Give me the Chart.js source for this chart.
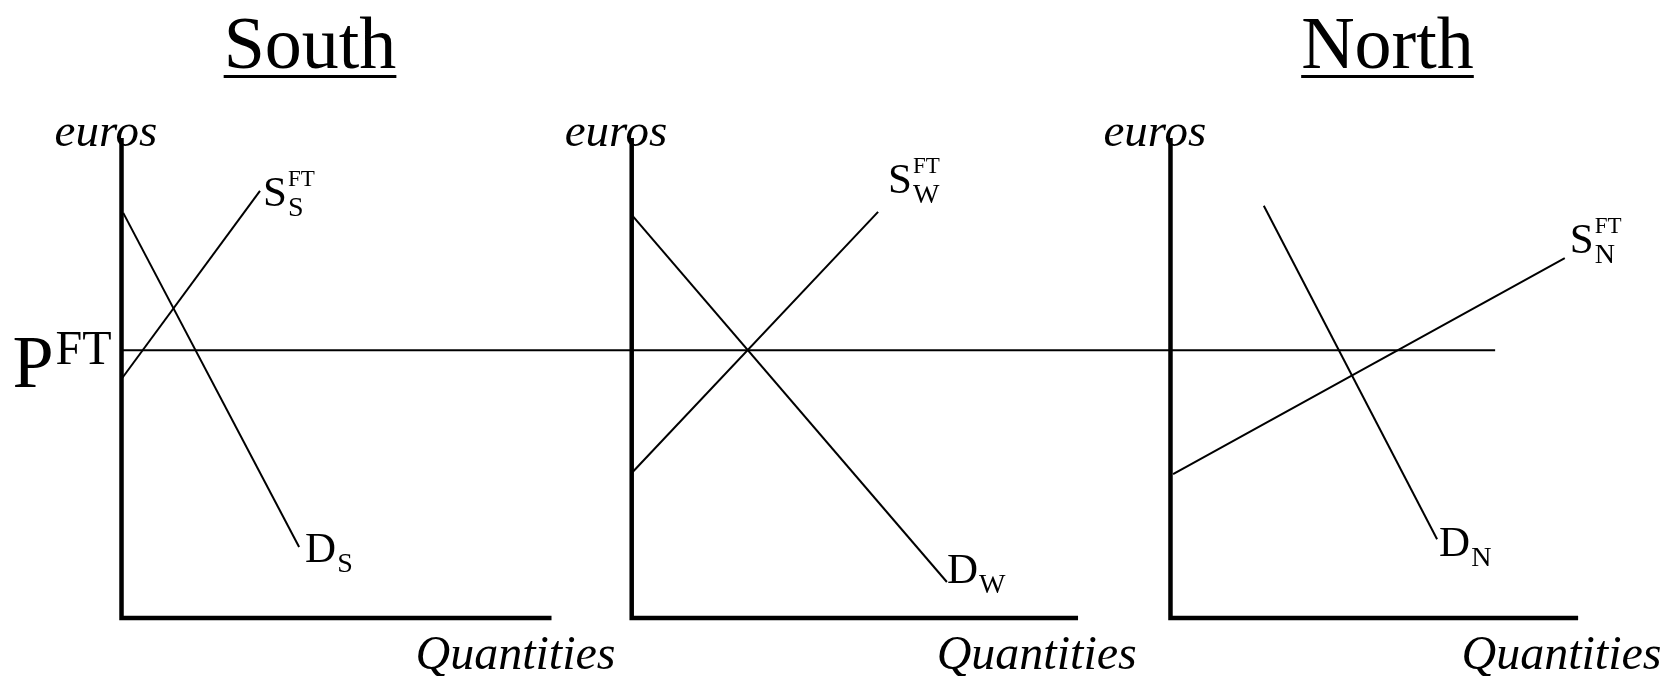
<!DOCTYPE html>
<html>
<head>
<meta charset="utf-8">
<script src="https://cdn.jsdelivr.net/npm/chart.js@4.4.1/dist/chart.umd.min.js"></script>
<style>
  html, body { margin: 0; padding: 0; background: #fff; }
  #wrap { width: 1663px; height: 676px; }
</style>
</head>
<body>
<div id="wrap"><canvas id="chart" width="1663" height="676"></canvas></div>
<script>
// --- DATOS (unidades: cantidad q, precio p, por panel) ---
const titles = ['South', '', 'North'];
const subs = ['S', 'W', 'N'];
const priceFT = 5.58;
const axisHeight = 10;
const axisLength = [10, 10.38, 9.48];
const priceLineEnd = 7.55; // en el panel North

const southSupply = [{ q: 0, p: 4.98 }, { q: 3.22, p: 8.90 }];
const southDemand = [{ q: 0.04, p: 8.44 }, { q: 4.13, p: 1.48 }];
const worldSupply = [{ q: 0, p: 3.02 }, { q: 5.73, p: 8.46 }];
const worldDemand = [{ q: 0, p: 8.40 }, { q: 7.33, p: 0.75 }];
const northSupply = [{ q: 0.06, p: 3.00 }, { q: 9.17, p: 7.50 }];
const northDemand = [{ q: 2.17, p: 8.59 }, { q: 6.20, p: 1.64 }];

// --- LAYOUT ---
const panelX = [0, 11.865, 24.395];
const X_MIN = -2.826, X_MAX = 35.849;
const Y_MIN = -1.208, Y_MAX = 12.875;
const FONT = '"Liberation Serif", "Times New Roman", serif';

const supplies = [southSupply, worldSupply, northSupply];
const demands = [southDemand, worldDemand, northDemand];

const toXY = (pts, i) => pts.map(d => ({ x: panelX[i] + d.q, y: d.p }));

const datasets = [];
// curvas de oferta y demanda
supplies.forEach((s, i) => datasets.push({ data: toXY(s, i), borderWidth: 2 }));
demands.forEach((d, i) => datasets.push({ data: toXY(d, i), borderWidth: 2 }));
// linea de precio de libre comercio
datasets.push({
  data: [{ x: panelX[0], y: priceFT }, { x: panelX[2] + priceLineEnd, y: priceFT }],
  borderWidth: 2
});
// ejes
panelX.forEach((off, i) => datasets.push({
  data: [{ x: off, y: axisHeight }, { x: off, y: 0 }, { x: off + axisLength[i], y: 0 }],
  borderWidth: 4.5
}));
datasets.forEach(ds => {
  ds.borderColor = '#000';
  ds.showLine = true;
  ds.pointRadius = 0;
  ds.fill = false;
  ds.tension = 0;
  ds.borderCapStyle = 'butt';
  ds.borderJoinStyle = 'miter';
});

// posiciones de los textos (offsets en px)
const curveLabels = [
  { ds: 0, main: 'S', sup: 'FT', sub: 'S', dx: 3, dy: 15 },
  { ds: 1, main: 'S', sup: 'FT', sub: 'W', dx: 10, dy: -19 },
  { ds: 2, main: 'S', sup: 'FT', sub: 'N', dx: 5, dy: -5 },
  { ds: 3, main: 'D', sub: 'S', dx: 6, dy: 15 },
  { ds: 4, main: 'D', sub: 'W', dx: 0, dy: 1 },
  { ds: 5, main: 'D', sub: 'N', dx: 2, dy: 17 }
];
const titleOffset = [188.5, 0, 217];
const qtyOffset = [294, 305, 291];

const textPlugin = {
  id: 'textos',
  afterDatasetsDraw(chart) {
    const ctx = chart.ctx;
    const xs = chart.scales.x, ys = chart.scales.y;
    const top = ys.getPixelForValue(axisHeight);
    const base = ys.getPixelForValue(0);
    ctx.save();
    ctx.fillStyle = '#000';
    ctx.textBaseline = 'alphabetic';

    panelX.forEach((off, i) => {
      const ox = xs.getPixelForValue(off);
      ctx.textAlign = 'left';
      ctx.font = 'italic 47px ' + FONT;
      ctx.fillText('euros', ox - 67, top + 8);
      ctx.font = 'italic 48px ' + FONT;
      ctx.fillText('Quantities', ox + qtyOffset[i], base + 51);

      if (titles[i]) {
        ctx.font = '74px ' + FONT;
        ctx.textAlign = 'center';
        const cx = ox + titleOffset[i];
        ctx.fillText(titles[i], cx, 68);
        const w = ctx.measureText(titles[i]).width;
        ctx.fillRect(cx - w / 2, 75, w, 3);
      }
    });

    // P^FT
    const py = ys.getPixelForValue(priceFT);
    const ox0 = xs.getPixelForValue(panelX[0]);
    ctx.textAlign = 'left';
    ctx.font = '74px ' + FONT;
    ctx.fillText('P', ox0 - 109, py + 37);
    ctx.font = '48px ' + FONT;
    ctx.fillText('FT', ox0 - 66, py + 14);

    // etiquetas de curvas
    curveLabels.forEach(l => {
      const pts = chart.getDatasetMeta(l.ds).data;
      const end = pts[pts.length - 1];
      const x = end.x + l.dx, y = end.y + l.dy;
      ctx.font = '43px ' + FONT;
      ctx.fillText(l.main, x, y);
      const w = ctx.measureText(l.main).width;
      if (l.sup) {
        ctx.font = '23px ' + FONT;
        ctx.fillText(l.sup, x + w + 1, y - 20);
      }
      ctx.font = '28px ' + FONT;
      ctx.fillText(l.sub, x + w + 1, y + 10);
    });
    ctx.restore();
  }
};

const ctx = document.getElementById('chart').getContext('2d');
const chart = new Chart(ctx, {
  type: 'scatter',
  data: { datasets: datasets },
  options: {
    responsive: false,
    animation: false,
    layout: { padding: 0 },
    plugins: {
      legend: { display: false },
      tooltip: { enabled: false },
      title: { display: false }
    },
    scales: {
      x: { type: 'linear', min: X_MIN, max: X_MAX, display: false },
      y: { type: 'linear', min: Y_MIN, max: Y_MAX, display: false }
    }
  },
  plugins: [textPlugin]
});
</script>
</body>
</html>
